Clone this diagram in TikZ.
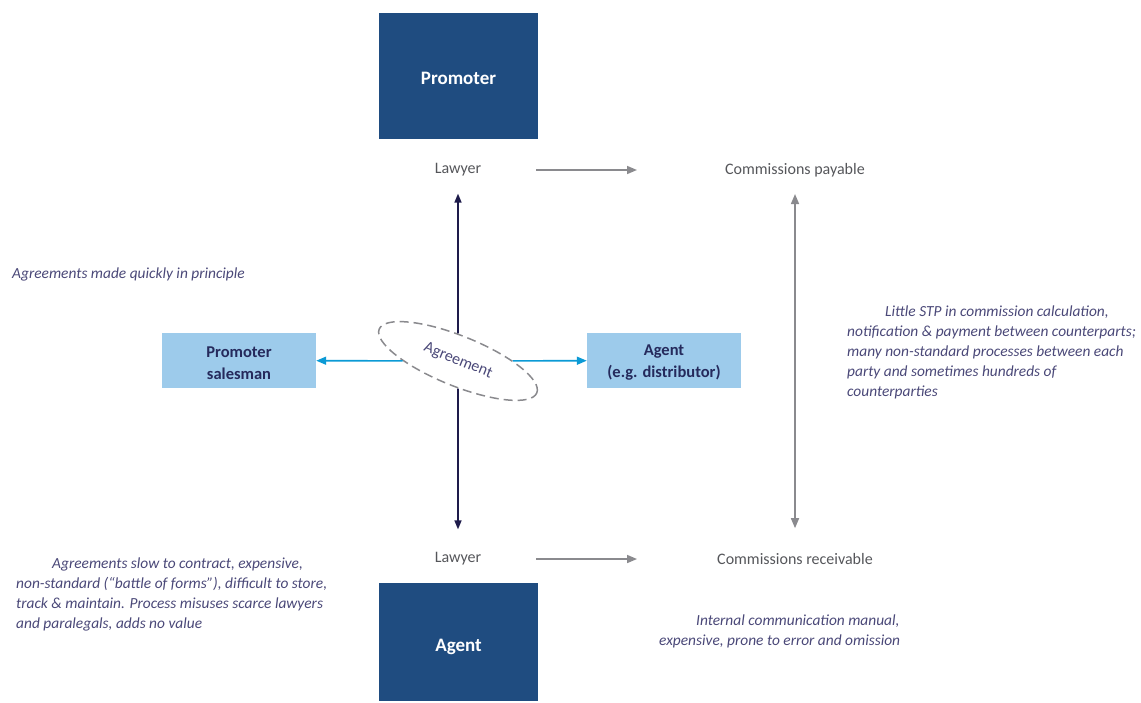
\documentclass[tikz,border=0pt]{standalone}
\usepackage{fontspec}
\setmainfont{Carlito}
\usetikzlibrary{arrows.meta,shapes.geometric}
\definecolor{darkbox}{HTML}{1F4C80}
\definecolor{lightbox}{HTML}{9DCBEB}
\definecolor{navy}{HTML}{1E1B4B}
\definecolor{boxtext}{HTML}{252A5C}
\definecolor{note}{HTML}{4A4878}
\definecolor{graytext}{HTML}{55565A}
\definecolor{grayline}{HTML}{8A8A8E}
\definecolor{cyanline}{HTML}{0B9AD5}
\tikzset{
  bigbox/.style={fill=darkbox,minimum width=159pt,minimum height=126pt,inner sep=0pt},
  bigtext/.style={text=white,font=\bfseries\fontsize{19}{22}\selectfont,inner sep=0pt},
  smallbox/.style={fill=lightbox,minimum width=154pt,minimum height=55pt,inner sep=0pt},
  smalltext/.style={text=boxtext,font=\bfseries\fontsize{16.5}{22}\selectfont,inner sep=0pt,align=center},
  label/.style={text=graytext,font=\fontsize{16}{18}\selectfont,inner sep=2pt},
  notetext/.style={text=note,font=\itshape\fontsize{15.4}{20}\selectfont,inner sep=0pt,align=left},
  grayarrow/.style={draw=grayline,line width=1.6pt,-{Triangle[length=10pt,width=8pt]}},
  grayboth/.style={draw=grayline,line width=1.6pt,{Triangle[length=10pt,width=8pt]}-{Triangle[length=10pt,width=8pt]}},
  navyarrow/.style={draw=navy,line width=1.6pt,-{Triangle[length=9pt,width=7pt]}},
  cyanarrow/.style={draw=cyanline,line width=1.6pt,-{Triangle[length=10pt,width=8pt]}},
}
\begin{document}
\begin{tikzpicture}[x=1pt,y=-1pt]
\useasboundingbox (0,0) rectangle (1141,702);
% boxes
\node[bigbox] (promoter) at (458.5,76) {};
\node[bigtext] (promotert) at ([yshift=-2pt]promoter.center) {Promoter};
\node[bigbox,minimum height=118pt] (agent) at (458.5,642) {};
\node[bigtext] (agentt) at ([yshift=-5pt]agent.center) {Agent};
\node[smallbox] (psales) at (239,360.5) {};
\node[smalltext] (psalest) at ([yshift=-2.5pt]psales.center) {Promoter\\salesman};
\node[smallbox] (adist) at (664,360.5) {};
\node[smalltext] (adistt) at ([yshift=-2.5pt]adist.center) {Agent\\(e.g. distributor)};
% labels
\node[label] (lawtop) at (458,170) {Lawyer};
\node[label] (lawbot) at (458,559) {Lawyer};
\node[label] (cpay) at (795,170) {Commissions payable};
\node[label] (crec) at (795,559) {Commissions receivable};
% agreement ellipse
\node[ellipse,draw=grayline,line width=1.5pt,dash pattern=on 9pt off 5pt,minimum width=170pt,minimum height=50pt,inner sep=0pt,rotate=-22,text=note,font=\fontsize{16}{18}\selectfont] (agr) at (458,361) {Agreement};
% arrows
\draw[navyarrow,shorten >=15pt] (agr) -- (lawtop);
\draw[navyarrow,shorten >=21pt] (agr) -- (lawbot);
\draw[cyanarrow] (agr) -- (psales);
\draw[cyanarrow] (agr) -- (adist);
\draw[grayarrow,yshift=3pt,shorten <=53pt,shorten >=86pt] (lawtop) -- (cpay);
\draw[grayarrow,yshift=6pt,shorten <=53pt,shorten >=78pt] (lawbot) -- (crec);
\draw[grayboth,shorten <=15pt,shorten >=23pt] (cpay) -- (crec);
% notes
\node[notetext,anchor=west] (n1) at (12,274) {Agreements made quickly in principle};
\node[notetext,anchor=north west] (n2) at (16,558) {\hspace*{36pt}Agreements slow to contract, expensive,\\non-standard (``battle of forms''), difficult to store,\\track \& maintain. Process misuses scarce lawyers\\and paralegals, adds no value};
\node[notetext,anchor=north west] (n3) at (847,306) {\hspace*{38pt}Little STP in commission calculation,\\notification \& payment between counterparts;\\many non-standard processes between each\\party and sometimes hundreds of\\counterparties};
\node[notetext,anchor=north west] (n4) at (659,615) {\hspace*{37pt}Internal communication manual,\\expensive, prone to error and omission};
\end{tikzpicture}
\end{document}
